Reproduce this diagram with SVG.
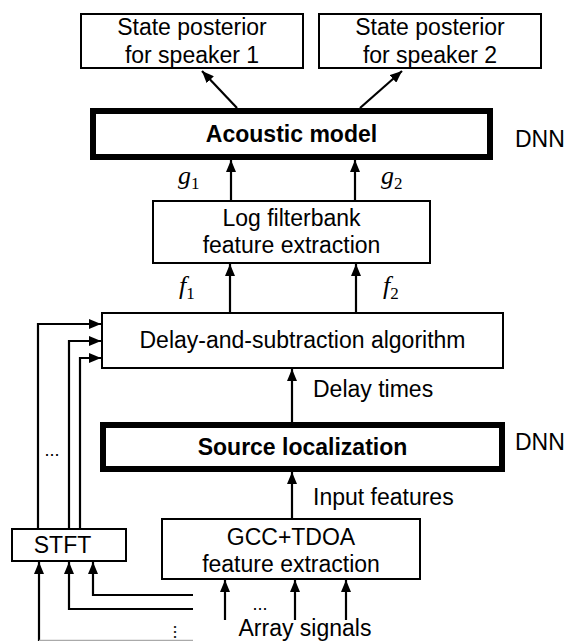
<svg xmlns="http://www.w3.org/2000/svg" width="571" height="641" viewBox="0 0 571 641">
  <style>
    .box { fill: #fff; stroke: #000; stroke-width: 2; }
    .thick { fill: #fff; stroke: #000; stroke-width: 6; }
    .lbl { font-family: "Liberation Sans", Arial, sans-serif; font-size: 23px; fill: #000; }
    .c { text-anchor: middle; }
    .b { font-weight: bold; }
    .math { font-family: "Liberation Serif", "Times New Roman", serif; font-style: italic; font-size: 26px; fill: #000; }
    .sub { font-style: normal; font-size: 17px; }
    .dots { font-family: "Liberation Sans", Arial, sans-serif; font-size: 18px; fill: #000; text-anchor: middle; }
    .wire { fill: none; stroke: #000; stroke-width: 2.2; }
  </style>
  <defs>
    <marker id="head" markerUnits="userSpaceOnUse" markerWidth="12" markerHeight="10" refX="12" refY="5" orient="auto">
      <path d="M0,0 L12,5 L0,10 z" fill="#000"/>
    </marker>
  </defs>

  <rect width="571" height="641" fill="#fff"/>

  <!-- connectors -->
  <g id="connectors" class="wire" marker-end="url(#head)">
    <line x1="237" y1="108" x2="202" y2="71"/>
    <line x1="360" y1="108" x2="402" y2="71"/>
    <line x1="231" y1="201" x2="231" y2="160"/>
    <line x1="355" y1="201" x2="355" y2="160"/>
    <line x1="230" y1="313" x2="230" y2="264"/>
    <line x1="356" y1="313" x2="356" y2="264"/>
    <line x1="292" y1="422" x2="292" y2="369"/>
    <line x1="292" y1="519" x2="292" y2="472"/>
    <line x1="225" y1="620" x2="225" y2="580"/>
    <line x1="295" y1="620" x2="295" y2="580"/>
    <line x1="346" y1="620" x2="346" y2="580"/>
    <!-- STFT outputs to delay-and-subtraction -->
    <polyline points="38,529 38,324 101,324"/>
    <polyline points="69,529 69,341 101,341"/>
    <polyline points="80,529 80,358 101,358"/>
    <!-- array signals into STFT -->
    <line x1="39" y1="641" x2="39" y2="562"/>
    <polyline points="193,609 69,609 69,562"/>
    <polyline points="193,595 93,595 93,562"/>
  </g>
  <line x1="39" y1="640.5" x2="193" y2="640.5" stroke="#aaa" stroke-width="1.5"/>

  <!-- output nodes -->
  <g id="posterior1">
    <rect class="box" x="81" y="14" width="222" height="54"/>
    <text class="lbl c" x="192" y="35">State posterior</text>
    <text class="lbl c" x="192" y="63">for speaker 1</text>
  </g>
  <g id="posterior2">
    <rect class="box" x="319" y="14" width="222" height="54"/>
    <text class="lbl c" x="430" y="35">State posterior</text>
    <text class="lbl c" x="430" y="63">for speaker 2</text>
  </g>

  <g id="acoustic-model">
    <rect class="thick" x="93" y="111" width="397" height="46"/>
    <text class="lbl c b" x="291.5" y="142">Acoustic model</text>
    <text class="lbl" x="515" y="147">DNN</text>
  </g>

  <g id="g-labels">
    <text class="math" x="178" y="184">g<tspan class="sub" dy="5">1</tspan></text>
    <text class="math" x="381" y="184">g<tspan class="sub" dy="5">2</tspan></text>
  </g>

  <g id="filterbank">
    <rect class="box" x="153" y="201" width="277" height="62"/>
    <text class="lbl c" x="291.5" y="226">Log filterbank</text>
    <text class="lbl c" x="291.5" y="253">feature extraction</text>
  </g>

  <g id="f-labels">
    <text class="math" x="179" y="294">f<tspan class="sub" dy="5">1</tspan></text>
    <text class="math" x="383" y="294">f<tspan class="sub" dy="5">2</tspan></text>
  </g>

  <g id="delay-subtraction">
    <rect class="box" x="102" y="313" width="401" height="55"/>
    <text class="lbl c" x="302.5" y="348">Delay-and-subtraction algorithm</text>
  </g>

  <text class="lbl" x="313" y="397">Delay times</text>

  <g id="source-localization">
    <rect class="thick" x="103" y="425" width="399" height="44"/>
    <text class="lbl c b" x="302.5" y="455">Source localization</text>
    <text class="lbl" x="515" y="450">DNN</text>
  </g>

  <text class="lbl" x="313" y="505">Input features</text>

  <g id="gcc-tdoa">
    <rect class="box" x="162" y="519" width="258" height="60"/>
    <text class="lbl c" x="291" y="545">GCC+TDOA</text>
    <text class="lbl c" x="291" y="572">feature extraction</text>
  </g>

  <g id="stft">
    <rect class="box" x="12" y="529" width="114" height="32"/>
    <text class="lbl c" x="62.5" y="553">STFT</text>
  </g>

  <g id="ellipses">
    <text class="dots" x="52" y="456">...</text>
    <text class="dots" x="260" y="610">...</text>
    <text class="dots" transform="translate(174 632) rotate(90)" x="0" y="0">...</text>
  </g>

  <text class="lbl c" x="305" y="636">Array signals</text>
</svg>
